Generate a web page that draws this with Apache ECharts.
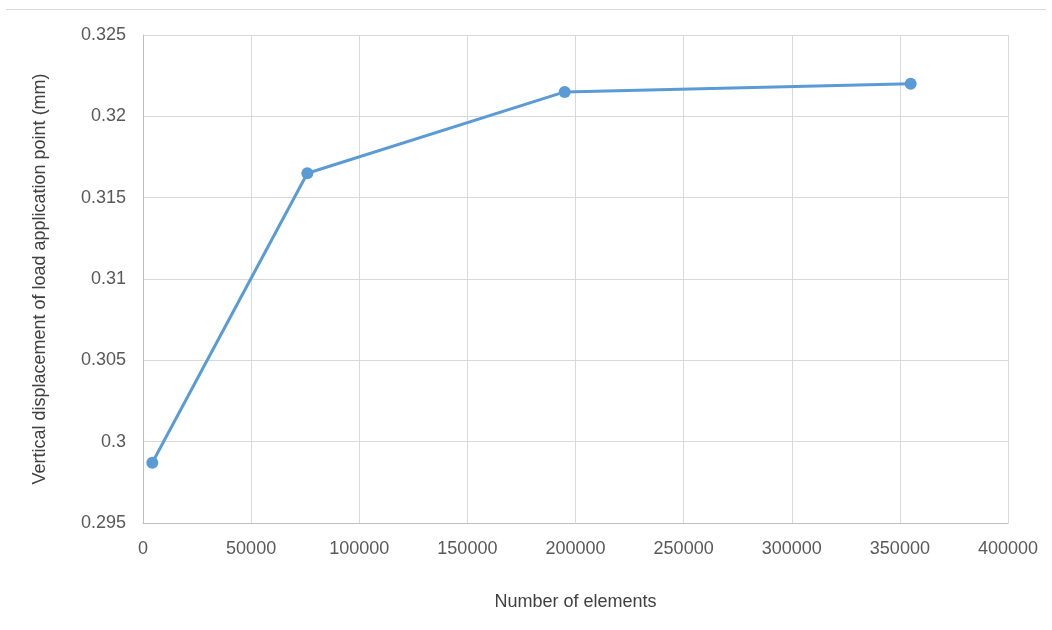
<!DOCTYPE html>
<html>
<head>
<meta charset="utf-8">
<script src="https://cdn.jsdelivr.net/npm/echarts@6/dist/echarts.min.js"></script>
<style>
  html, body { margin: 0; padding: 0; background: #ffffff; }
  #chart { width: 1052px; height: 630px; }
</style>
</head>
<body>
<div id="chart"></div>
<script>
// Mesh convergence: number of elements vs. vertical displacement
const elementCounts = [4300, 76000, 195000, 355000];
const displacements = [0.2987, 0.3165, 0.3215, 0.3220];

const xAxisTitle = 'Number of elements';
const yAxisTitle = 'Vertical displacement of load application point (mm)';

const fontFamily = '"Liberation Sans", Arial, sans-serif';
const textColor = '#595959';

const chart = echarts.init(document.getElementById('chart'), null, { renderer: 'canvas' });

chart.setOption({
  backgroundColor: '#ffffff',
  animation: false,
  grid: { left: 143, right: 44, top: 35, bottom: 107, containLabel: false },
  graphic: [{
    type: 'line',
    shape: { x1: 6, y1: 9.5, x2: 1046, y2: 9.5 },
    style: { stroke: '#d9d9d9', lineWidth: 1 }
  }],
  xAxis: {
    type: 'value',
    min: 0, max: 400000, interval: 50000,
    name: xAxisTitle,
    nameLocation: 'middle',
    nameGap: 70,
    nameTextStyle: { fontFamily, fontSize: 18, color: '#404040' },
    axisLine: { show: true, lineStyle: { color: '#bfbfbf', width: 1 } },
    axisTick: { show: false },
    axisLabel: {
      fontFamily, fontSize: 18, color: textColor, margin: 17,
      formatter: v => String(v)
    },
    splitLine: { show: true, lineStyle: { color: '#d9d9d9', width: 1 } }
  },
  yAxis: {
    type: 'value',
    min: 0.295, max: 0.325, interval: 0.005,
    name: yAxisTitle,
    nameLocation: 'middle',
    nameGap: 94,
    nameTextStyle: { fontFamily, fontSize: 18, color: '#404040' },
    axisLine: { show: true, lineStyle: { color: '#bfbfbf', width: 1 } },
    axisTick: { show: false },
    axisLabel: {
      fontFamily, fontSize: 18, color: textColor, margin: 17,
      formatter: v => String(parseFloat(v.toFixed(3)))
    },
    splitLine: { show: true, lineStyle: { color: '#d9d9d9', width: 1 } }
  },
  series: [{
    type: 'line',
    data: elementCounts.map((x, i) => [x, displacements[i]]),
    symbol: 'circle',
    symbolSize: 12,
    lineStyle: { color: '#5b9bd5', width: 3 },
    itemStyle: { color: '#5b9bd5' }
  }]
});
</script>
</body>
</html>
